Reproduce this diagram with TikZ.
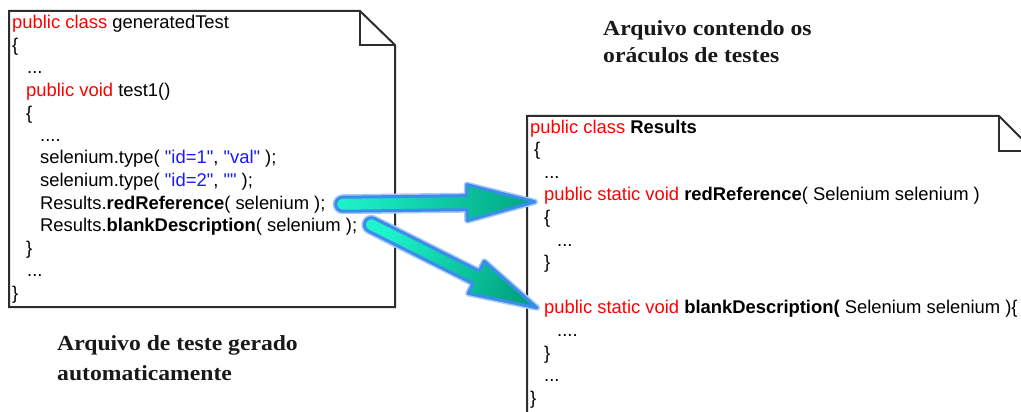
\documentclass[tikz,border=0pt]{standalone}
\usepackage{fontspec}
\setmainfont{Liberation Sans}[Ligatures=TeXOff]
\newfontfamily\capfont[FakeStretch=1.1]{Liberation Serif}
\usetikzlibrary{calc}
\definecolor{kw}{RGB}{255,0,0}
\definecolor{str}{RGB}{25,25,255}
\definecolor{docline}{RGB}{45,45,45}
\definecolor{arrA}{RGB}{30,245,205}
\definecolor{arrB}{RGB}{0,165,128}
\definecolor{arrEdge}{RGB}{60,140,235}
\tikzset{
  code/.style={anchor=base west, inner sep=0pt, font=\fontsize{18.4}{22}\selectfont, text=black},
  doc/.style={draw=docline, line width=2pt, fill=white, line join=miter},
  fold/.style={draw=docline, line width=2pt},
  caption/.style={anchor=base west, inner sep=0pt, font=\capfont\bfseries\fontsize{21.5}{26}\selectfont, text=black!90},
  fatarrow/.style={draw=arrEdge, line width=3pt, line join=round, top color=arrA, bottom color=arrB}
}
\newcommand{\kw}[1]{\textcolor{kw}{#1}}
\newcommand{\st}[1]{\textcolor{str}{#1}}
% #1 tail, #2 tip, #3 shading angle
\newcommand{\fatarr}[3]{%
  \coordinate (hb) at ($(#2)!68pt!(#1)$);
  \path[draw=arrEdge!45, line width=6pt, line join=round] let \p1=($(#2)-(#1)$), \n1={atan2(\y1,\x1)} in
    ($(#1)+(\n1+90:7pt)$) arc[start angle=\n1+90, delta angle=180, radius=7pt]
    -- ($(hb)+(\n1-90:7pt)$) -- ($(hb)+(\n1-90:18pt)$) -- (#2)
    -- ($(hb)+(\n1+90:18pt)$) -- ($(hb)+(\n1+90:7pt)$) -- cycle;
  \path[fatarrow, shading angle=#3] let \p1=($(#2)-(#1)$), \n1={atan2(\y1,\x1)} in
    ($(#1)+(\n1+90:7pt)$) arc[start angle=\n1+90, delta angle=180, radius=7pt]
    -- ($(hb)+(\n1-90:7pt)$) -- ($(hb)+(\n1-90:18pt)$) -- (#2)
    -- ($(hb)+(\n1+90:18pt)$) -- ($(hb)+(\n1+90:7pt)$) -- cycle;
}
\begin{document}
\begin{tikzpicture}[x=1pt,y=-1pt]
\useasboundingbox (0,0) rectangle (1021,412);
\clip (0,0) rectangle (1021,412);
\fill[white] (0,0) rectangle (1021,412);

% left document
\draw[doc] (9,11) -- (360,11) -- (395,45) -- (395,307) -- (9,307) -- cycle;
\draw[fold] (360,11) -- (360,45) -- (395,45);
% right document
\draw[doc] (527,116) -- (999,116) -- (1034,151) -- (1034,440) -- (527,440) -- cycle;
\draw[fold] (999,116) -- (999,151) -- (1034,151);

% left code
\node[code] (l1)  at (12,29)    {\kw{public class} generatedTest};
\node[code] (l2)  at (12,51.5)  {\{};
\node[code] (l3)  at (27,74)    {...};
\node[code] (l4)  at (26,96.5)  {\kw{public void} test1()};
\node[code] (l5)  at (26,119)   {\{};
\node[code] (l6)  at (40,141.5) {....};
\node[code] (l7)  at (40,164)   {selenium.type( \st{"id=1"}, \st{"val"} );};
\node[code] (l8)  at (40,186.5) {selenium.type( \st{"id=2"}, \st{""} );};
\node[code] (l9)  at (40,209)   {Results.\textbf{redReference}( selenium );};
\node[code] (l10) at (40,231.5) {Results.\textbf{blankDescription}( selenium );};
\node[code] (l11) at (26,254)   {\}};
\node[code] (l12) at (27,276.5) {...};
\node[code] (l13) at (12,299)   {\}};

% right code
\node[code] (r1)  at (530,133)   {\kw{public class} \textbf{Results}};
\node[code] (r2)  at (534,155.6) {\{};
\node[code] (r3)  at (544,178.2) {...};
\node[code] (r4)  at (544,200.8) {\kw{public static void} \textbf{redReference}( Selenium selenium )};
\node[code] (r5)  at (544,223.4) {\{};
\node[code] (r6)  at (557,246)   {...};
\node[code] (r7)  at (544,268.6) {\}};
\node[code] (r9)  at (544,313.8) {\kw{public static void} \textbf{blankDescription(} Selenium selenium )\{};
\node[code] (r10) at (557,336.4) {....};
\node[code] (r11) at (544,359)   {\}};
\node[code] (r12) at (544,381.6) {...};
\node[code] (r13) at (530,404.2) {\}};

% captions
\node[caption] (c1) at (57,350.5) {Arquivo de teste gerado};
\node[caption] (c2) at (57,380)   {automaticamente};
\node[caption] (c3) at (603,36)   {Arquivo contendo os};
\node[caption] (c4) at (603,63)   {oráculos de testes};

% arrows
\coordinate (a1s) at ($(l9.east)+(17,0)$);
\coordinate (a1e) at ($(r4.base west)+(-9,1)$);
\coordinate (a2s) at ($(l10.east)+(14,-2)$);
\coordinate (a2e) at ($(r9.base west)+(-7,-6)$);
\fatarr{a1s}{a1e}{90}
\fatarr{a2s}{a2e}{65}
\end{tikzpicture}
\end{document}
